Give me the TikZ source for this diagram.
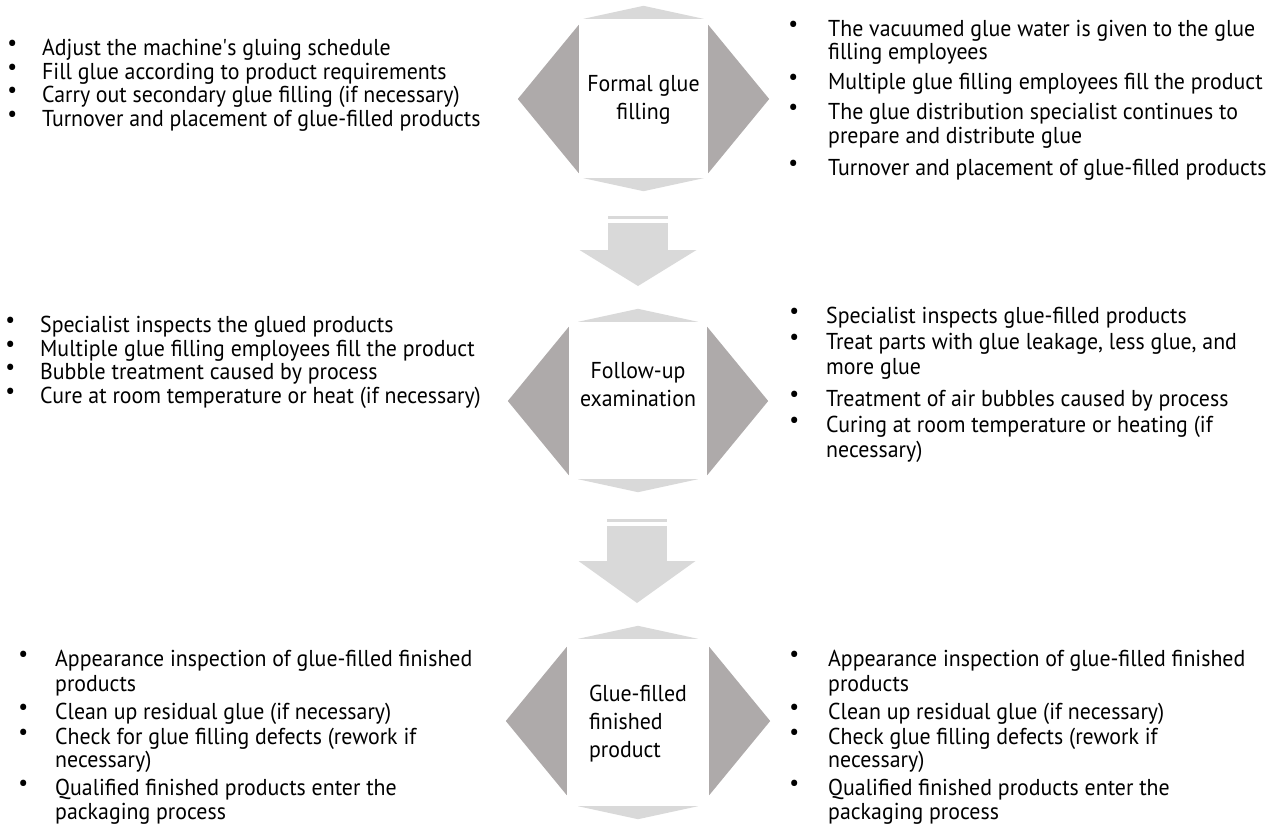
\documentclass[tikz,border=0pt]{standalone}
\usepackage{fontspec}
\setmainfont{PT Sans}[FakeStretch=0.95]

\definecolor{sidegray}{RGB}{174,170,170}
\definecolor{capgray}{RGB}{217,217,217}

% bullet hung left of the text
\newcommand{\bul}[1][30]{\llap{\makebox[6pt]{\raisebox{5pt}{\textbullet}}\hspace{\dimexpr#1pt-3pt\relax}}}

\tikzset{
  core/.style={fill=white, minimum height=148pt, inner sep=0pt},
  title/.style={font=\fontsize{23}{28}\selectfont, align=center, inner sep=0pt},
  list/.style={font=\fontsize{23}{23.5}\selectfont, align=left, anchor=base west, inner sep=0pt},
  wing/.style={fill=sidegray},
  lid/.style={fill=capgray}
}

\begin{document}
\begin{tikzpicture}[x=1pt,y=-1pt]
\useasboundingbox (0,0) rectangle (1280,825);

% the three stages
\node (fill) [core, minimum width=129pt] at (643.5,99) {};
\node (exam) [core, minimum width=138pt] at (638,401) {};
\node (done) [core, minimum width=142pt] at (638,721) {};

\foreach \s/\t/\b in {fill/6/5, exam/5/4, done/8/11} {
  \fill[wing] (\s.north west) -- ([xshift=-61pt]\s.west) -- (\s.south west) -- cycle;
  \fill[wing] (\s.north east) -- ([xshift=61pt]\s.east) -- (\s.south east) -- cycle;
  \fill[lid] ([xshift=-60pt,yshift=\t]\s.north) -- ([yshift=\t+13]\s.north) -- ([xshift=60pt,yshift=\t]\s.north) -- cycle;
  \fill[lid] ([xshift=-60pt,yshift=-\b]\s.south) -- ([yshift=-\b-13]\s.south) -- ([xshift=60pt,yshift=-\b]\s.south) -- cycle;
}

\node (fillt) [title] at ([yshift=-1pt]fill.center) {Formal glue\\filling};
\node (examt) [title] at ([yshift=16pt]exam.center) {Follow-up\\examination};
\node (donet) [title, align=left] at ([yshift=-3pt]done.center) {Glue-filled\\finished\\product};

% down arrows
\coordinate (d1) at (638,216);
\coordinate (d2) at (637,519);
\foreach \d/\s/\h in {d1/34/36, d2/42/42} {
  \fill[lid] ([xshift=-30pt]\d) rectangle ([xshift=30pt,yshift=-3pt]\d);
  \fill[lid] ([xshift=-30pt,yshift=-7pt]\d) rectangle ([xshift=30pt,yshift=-\s]\d);
  \fill[lid] ([xshift=-58.5pt,yshift=-\s]\d) -- ([xshift=58.5pt,yshift=-\s]\d) -- ([yshift=-\s-\h]\d) -- cycle;
}

% bullet lists (placed by their last baseline)
\node (fillL) [list] at (42,126) {\bul Adjust the machine\textquotesingle s gluing schedule\\
\bul Fill glue according to product requirements\\
\bul Carry out secondary glue filling (if necessary)\\
\bul Turnover and placement of glue-filled products};

\node (fillR) [list] at (828,175) {\bul[35]The vacuumed glue water is given to the glue\\
filling employees\\[6.5pt]
\bul[35]Multiple glue filling employees fill the product\\[6.5pt]
\bul[35]The glue distribution specialist continues to\\
prepare and distribute glue\\[8.5pt]
\bul[35]Turnover and placement of glue-filled products};

\node (examL) [list] at (40,403) {\bul Specialist inspects the glued products\\
\bul Multiple glue filling employees fill the product\\
\bul Bubble treatment caused by process\\
\bul Cure at room temperature or heat (if necessary)};

\node (examR) [list] at (826,457) {\bul[32]Specialist inspects glue-filled products\\[2.5pt]
\bul[32]Treat parts with glue leakage, less glue, and\\[1.5pt]
more glue\\[8.5pt]
\bul[32]Treatment of air bubbles caused by process\\[2.5pt]
\bul[32]Curing at room temperature or heating (if\\[1.5pt]
necessary)};

\node (doneL) [list] at (55,819) {\bul[32]Appearance inspection of glue-filled finished\\[1.5pt]
products\\[4.5pt]
\bul[32]Clean up residual glue (if necessary)\\[1.5pt]
\bul[32]Check for glue filling defects (rework if\\
necessary)\\[4.5pt]
\bul[32]Qualified finished products enter the\\
packaging process};

\node (doneR) [list] at (828,819) {\bul[34]Appearance inspection of glue-filled finished\\[1.5pt]
products\\[4.5pt]
\bul[34]Clean up residual glue (if necessary)\\[1.5pt]
\bul[34]Check glue filling defects (rework if\\
necessary)\\[4.5pt]
\bul[34]Qualified finished products enter the\\
packaging process};
\end{tikzpicture}
\end{document}
